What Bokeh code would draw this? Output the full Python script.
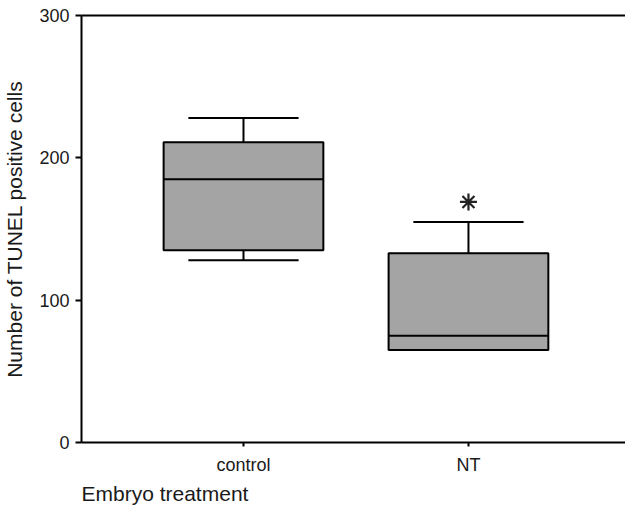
from bokeh.plotting import figure
from bokeh.models import FixedTicker, LinearAxis, Title, Range1d
from bokeh.embed import file_html
from bokeh.resources import INLINE

categories = ["control", "NT"]
whisker_high = [228, 155]
q3 = [211, 133]
median = [185, 75]
q1 = [135, 65]
whisker_low = [128, 65]
sig_marker = ["", "*"]
y_ticks = [0, 100, 200, 300]

xs = [i + 1 for i in range(len(categories))]
box_w = 0.71
cap_w = 0.49

FONT = "Liberation Sans"
TXT = "#1a1a1a"

p = figure(output_backend="svg", toolbar_location=None,
           width=617, height=498,
           x_range=Range1d(0.28, 2.698), y_range=Range1d(0, 300),
           min_border_left=73, min_border_right=0, min_border_top=15,
           min_border_bottom=0)
p.frame_width = 544
p.frame_height = 427

p.grid.visible = False
p.outline_line_color = None
p.background_fill_color = "white"
p.border_fill_color = "white"

# whiskers
p.segment(xs, q3, xs, whisker_high, line_color="black", line_width=2)
p.segment(xs, whisker_low, xs, q1, line_color="black", line_width=2)
p.segment([x - cap_w / 2 for x in xs], whisker_high, [x + cap_w / 2 for x in xs], whisker_high,
          line_color="black", line_width=2)
p.segment([x - cap_w / 2 for x in xs], whisker_low, [x + cap_w / 2 for x in xs], whisker_low,
          line_color="black", line_width=2)
# boxes
p.vbar(x=xs, width=box_w, bottom=q1, top=q3, fill_color="#a4a4a4",
       line_color="black", line_width=2)
# medians
p.segment([x - box_w / 2 for x in xs], median, [x + box_w / 2 for x in xs], median,
          line_color="black", line_width=2)
# significance
sx = [x for x, s in zip(xs, sig_marker) if s]
sy = [h + 14 for h, s in zip(whisker_high, sig_marker) if s]
p.scatter(sx, sy, marker="asterisk", size=17, line_color="#222222", line_width=2.2)

# axes
xa = p.xaxis[0]
xa.ticker = FixedTicker(ticks=xs)
xa.major_label_overrides = {x: c for x, c in zip(xs, categories)}
xa.minor_tick_line_color = None
xa.major_tick_out = 4
xa.major_tick_in = 0
xa.axis_line_width = 2
xa.major_tick_line_width = 2
xa.axis_line_color = "black"
xa.major_label_text_font = FONT
xa.major_label_text_font_size = "18px"
xa.major_label_text_color = TXT
xa.major_label_standoff = 8

ya = p.yaxis[0]
ya.ticker = FixedTicker(ticks=y_ticks)
ya.minor_tick_line_color = None
ya.major_tick_out = 6
ya.major_tick_in = 0
ya.axis_line_width = 2
ya.major_tick_line_width = 2
ya.major_label_text_font = FONT
ya.major_label_text_font_size = "18px"
ya.major_label_text_color = TXT
ya.major_label_standoff = 6
ya.axis_label = "Number of TUNEL positive cells"
ya.axis_label_text_font = FONT
ya.axis_label_text_font_size = "21px"
ya.axis_label_text_font_style = "normal"
ya.axis_label_text_color = TXT
ya.axis_label_standoff = 10

top = LinearAxis(ticker=FixedTicker(ticks=[]), axis_line_width=2,
                 major_label_text_font_size="0px", minor_tick_line_color=None,
                 major_tick_line_color=None)
p.add_layout(top, "above")

t = Title(text="Embryo treatment", align="left", text_font=FONT,
          text_font_size="21px", text_font_style="normal", text_color=TXT,
          offset=0, standoff=4)
p.add_layout(t, "below")

open("out.html", "w").write(file_html(p, INLINE))
